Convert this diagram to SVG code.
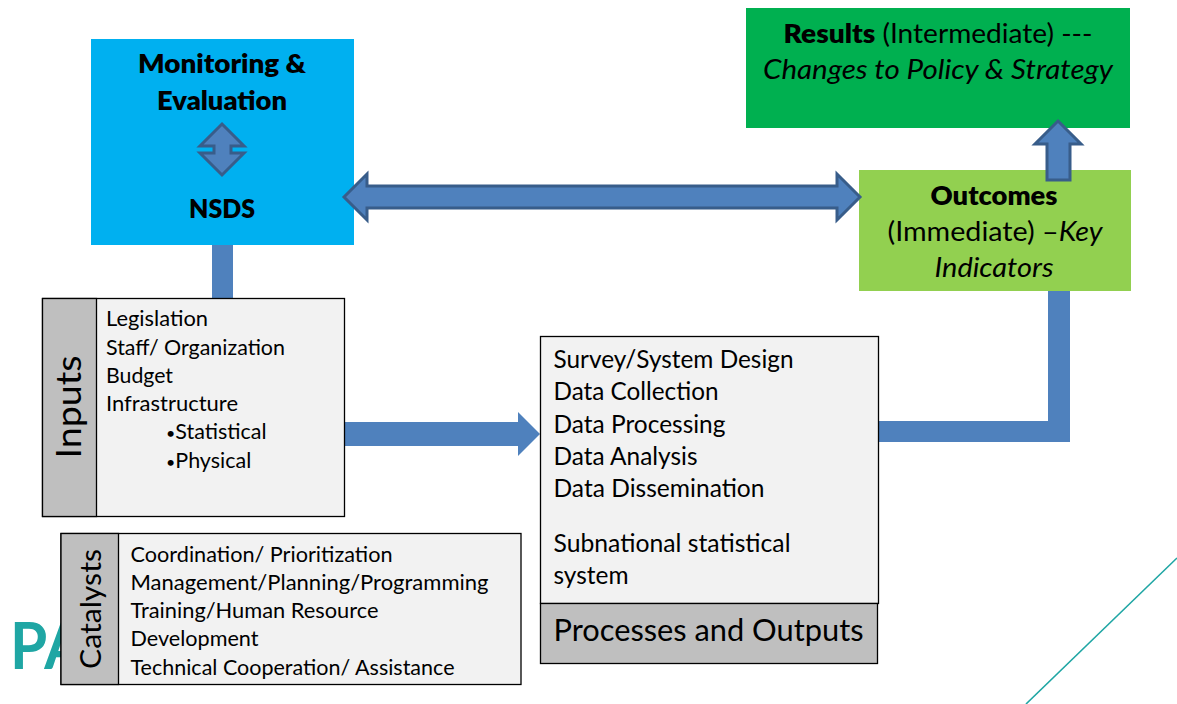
<svg xmlns="http://www.w3.org/2000/svg" width="1177" height="704" viewBox="0 0 1177 704">
<style>
text{font-family:"Lato","Open Sans","Liberation Sans",sans-serif;fill:#000}
.b{font-weight:800}.i{font-style:italic}
.box{fill:#f2f2f2;stroke:#000;stroke-width:1.3}
.tab{fill:#bfbfbf;stroke:#000;stroke-width:1.3}
.bar{fill:#4f81bd;stroke:none}
.arrow{fill:#4f81bd;stroke:#385d8a;stroke-width:3;stroke-linejoin:miter}
.t29{font-size:27px}.t21{font-size:21.5px}.t24{font-size:24.5px}.t20{font-size:20.5px}
</style>
<rect width="1177" height="704" fill="#fff"/>
<g id="decor">
<text x="10" y="669" font-size="65" style="fill:#1fa6a4;font-weight:700" textLength="76" lengthAdjust="spacingAndGlyphs">PA</text>
<line x1="1177" y1="558" x2="1026" y2="704" stroke="#1fa6a4" stroke-width="1.6"/>
</g>
<g id="connectors">
<rect class="bar" x="212" y="243" width="21" height="56"/>
<path class="bar" d="M345 422H518V412L540 434L518 456V446H345Z"/>
<path class="bar" d="M877 421H1048V290H1070V442H877Z"/>
</g>
<g id="monitoring">
<rect x="91" y="39" width="263" height="206" fill="#00b0f0"/>
<text class="b t29" x="222" y="73" text-anchor="middle" textLength="168" lengthAdjust="spacingAndGlyphs">Monitoring &amp;</text>
<text class="b t29" x="222" y="110" text-anchor="middle" textLength="130" lengthAdjust="spacingAndGlyphs">Evaluation</text>
<text class="b t29" x="222" y="218" text-anchor="middle" textLength="66" lengthAdjust="spacingAndGlyphs">NSDS</text>
<path class="arrow" stroke-width="2.500" d="M222 124L244 146H231V153H244L222 175L200 153H214V146H200Z"/>
</g>
<g id="results">
<rect x="746" y="8" width="384" height="120" fill="#00b050"/>
<text class="t29" x="938" y="43" text-anchor="middle" textLength="309" lengthAdjust="spacingAndGlyphs"><tspan class="b">Results</tspan> (Intermediate) ---</text>
<text class="t29 i" x="938" y="79" text-anchor="middle" textLength="350" lengthAdjust="spacingAndGlyphs">Changes to Policy &amp; Strategy</text>
</g>
<g id="outcomes">
<rect x="859" y="170" width="272" height="121" fill="#92d050"/>
<text class="b t29" x="994" y="205" text-anchor="middle" textLength="127" lengthAdjust="spacingAndGlyphs">Outcomes</text>
<text class="t29" x="995" y="241" text-anchor="middle" textLength="215" lengthAdjust="spacingAndGlyphs">(Immediate) –<tspan class="i">Key</tspan></text>
<text class="t29 i" x="994" y="277" text-anchor="middle" textLength="119" lengthAdjust="spacingAndGlyphs">Indicators</text>
</g>
<g id="arrows">
<path class="arrow" d="M344 197L367 174V186H837V174L860 197L837 220V208H367V220Z"/>
<path class="arrow" d="M1058 121L1081 144H1070V180H1047V144H1035Z"/>
</g>
<g id="inputs">
<rect class="box" x="42.500" y="298.500" width="302" height="218"/>
<rect class="tab" x="42.500" y="298.500" width="54" height="218"/>
<text transform="translate(81 407) rotate(-90)" font-size="35" text-anchor="middle" textLength="103" lengthAdjust="spacingAndGlyphs">Inputs</text>
<text class="t21" x="106" y="326" textLength="102" lengthAdjust="spacingAndGlyphs">Legislation</text>
<text class="t21" x="106" y="355" textLength="179" lengthAdjust="spacingAndGlyphs">Staff/ Organization</text>
<text class="t21" x="106" y="383" textLength="67" lengthAdjust="spacingAndGlyphs">Budget</text>
<text class="t21" x="106" y="411" textLength="132" lengthAdjust="spacingAndGlyphs">Infrastructure</text>
<text class="t21" x="166" y="439"><tspan font-size="16">•</tspan>Statistical</text>
<text class="t21" x="166" y="468"><tspan font-size="16">•</tspan>Physical</text>
</g>
<g id="catalysts">
<rect class="box" x="61" y="533.500" width="460" height="151"/>
<rect class="tab" x="61" y="533.500" width="57.500" height="151"/>
<text transform="translate(101 609) rotate(-90)" font-size="29" text-anchor="middle" textLength="120" lengthAdjust="spacingAndGlyphs">Catalysts</text>
<text class="t21" x="130.500" y="562" textLength="262" lengthAdjust="spacingAndGlyphs">Coordination/ Prioritization</text>
<text class="t21" x="130.500" y="590" textLength="358" lengthAdjust="spacingAndGlyphs">Management/Planning/Programming</text>
<text class="t21" x="130.500" y="618" textLength="248" lengthAdjust="spacingAndGlyphs">Training/Human Resource</text>
<text class="t21" x="130.500" y="646" textLength="128" lengthAdjust="spacingAndGlyphs">Development</text>
<text class="t21" x="130.500" y="675" textLength="324" lengthAdjust="spacingAndGlyphs">Technical Cooperation/ Assistance</text>
</g>
<g id="processes">
<rect class="box" x="540.500" y="336.500" width="338" height="267"/>
<rect class="tab" x="540.500" y="603.500" width="337" height="60"/>
<text class="t24" x="553.500" y="368" textLength="240" lengthAdjust="spacingAndGlyphs">Survey/System Design</text>
<text class="t24" x="553.500" y="400" textLength="165" lengthAdjust="spacingAndGlyphs">Data Collection</text>
<text class="t24" x="553.500" y="433" textLength="172" lengthAdjust="spacingAndGlyphs">Data Processing</text>
<text class="t24" x="553.500" y="465" textLength="144" lengthAdjust="spacingAndGlyphs">Data Analysis</text>
<text class="t24" x="553.500" y="497" textLength="211" lengthAdjust="spacingAndGlyphs">Data Dissemination</text>
<text class="t24" x="553.500" y="552" textLength="237" lengthAdjust="spacingAndGlyphs">Subnational statistical</text>
<text class="t24" x="553.500" y="584" textLength="75" lengthAdjust="spacingAndGlyphs">system</text>
<text x="553.500" y="641" font-size="31" textLength="310" lengthAdjust="spacingAndGlyphs">Processes and Outputs</text>
</g>
</svg>
